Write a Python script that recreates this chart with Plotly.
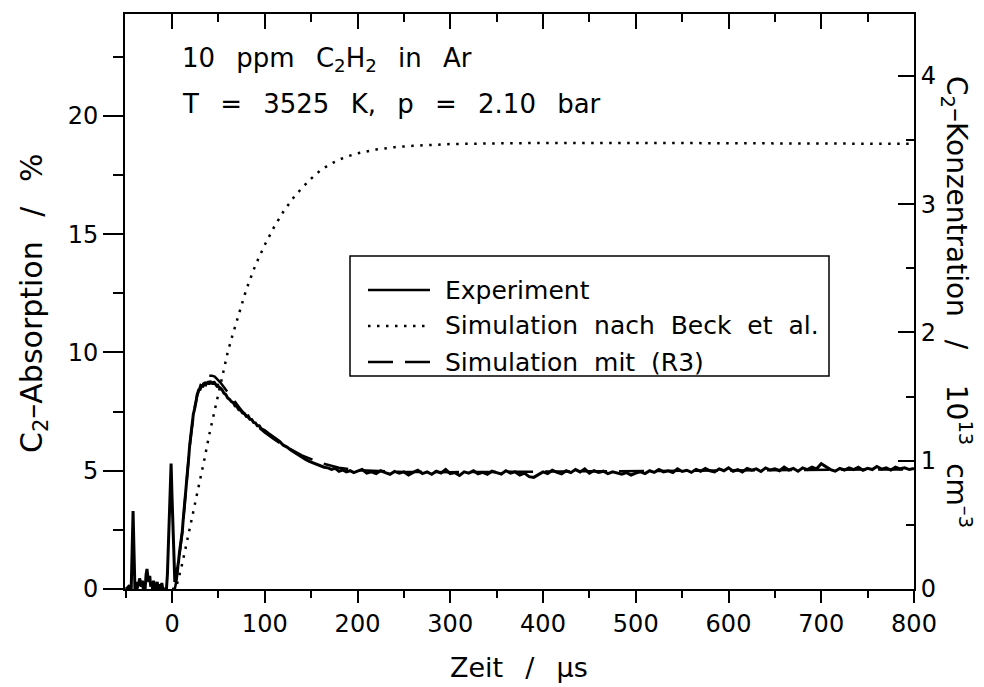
import plotly.graph_objects as go

# ---------------- data ----------------
# Experiment: C2 absorption in %, time in microseconds
exp_time_pre = [-50, -48, -46, -45, -44, -43, -42, -41, -40, -39,
                -38, -36, -35, -34, -33, -32, -31, -30, -29, -28,
                -27, -26, -25, -24, -23, -22, -21, -20, -19, -18,
                -17, -16, -15, -14, -13, -12, -11, -10, -8, -6,
                -5, -4, -3, -2, -1, 0, 1, 2, 3, 4]
exp_abs_pre = [0, 0.05, 0.15, 0, 0, 1.2, 3.3, 1.6, 0, 0.3,
               0, 0.2, 0.45, 0.3, 0.1, 0.35, 0, 0.1, 0, 0.6,
               0.85, 0.5, 0.3, 0.55, 0.1, 0.3, 0, 0.35, 0.15, 0,
               0.1, 0.3, 0.05, 0, 0.2, 0, 0.25, 0, 0, 0,
               0.6, 1.8, 3.2, 4.6, 5.3, 3.9, 2.3, 1.0, 0.3, 0.4]

exp_time_rise = list(range(5, 51)) + list(range(52, 99, 2))
exp_abs_rise = [0.6, 0.95, 1.15, 1.55, 1.8, 2.15, 2.4, 2.9, 3.3, 3.85,
                4.3, 4.65, 5.2, 5.55, 6.05, 6.4, 6.8, 7.0, 7.4, 7.55,
                7.85, 7.95, 8.2, 8.3, 8.45, 8.4, 8.55, 8.62, 8.52, 8.68,
                8.7, 8.58, 8.74, 8.66, 8.78, 8.64, 8.8, 8.7, 8.76, 8.65,
                8.77, 8.7, 8.68, 8.6, 8.66, 8.55,
                8.5, 8.42, 8.28, 8.22, 8.08, 8.02, 7.92, 7.88, 7.74, 7.72,
                7.58, 7.56, 7.44, 7.42, 7.3, 7.32, 7.18, 7.16, 7.04, 7.02,
                6.9, 6.9, 6.78, 6.74]

exp_time_decay = list(range(100, 197, 4))
exp_abs_decay = [6.7, 6.58, 6.47, 6.33, 6.24, 6.08, 6.0, 5.88, 5.78, 5.66,
                 5.58, 5.48, 5.4, 5.33, 5.27, 5.2, 5.15, 5.12, 5.06, 5.1,
                 4.98, 5.03, 4.95, 5.0, 4.92]

exp_time_plateau = list(range(200, 801, 5))
exp_abs_plateau = [4.98, 5.05, 4.90, 4.95, 4.88, 5.00, 4.92, 4.85, 4.97, 4.90,
                   4.95, 4.82, 4.93, 5.02, 4.88, 4.95, 4.85, 4.98, 4.90, 5.05,
                   4.88, 4.92, 4.80, 4.95, 4.90, 5.00, 4.87, 4.93, 4.85, 4.98,
                   4.92, 4.86, 5.00, 4.90, 4.95, 4.82, 4.90, 4.75, 4.72, 4.85,
                   4.95, 4.88, 5.02, 4.93, 4.87, 5.00, 4.92, 5.05, 4.95, 5.08,
                   4.90, 5.00, 4.93, 4.98, 4.88, 4.95, 4.90, 4.85, 4.92, 4.82,
                   4.90, 4.95, 4.88, 5.00, 4.93, 5.05, 4.95, 5.00, 4.92, 5.08,
                   4.97, 5.02, 4.93, 5.06, 4.98, 5.10, 5.00, 4.95, 5.08, 5.00,
                   5.12, 4.98, 5.05, 4.95, 5.10, 5.02, 5.08, 4.97, 5.12, 5.03,
                   5.08, 5.00, 5.15, 5.03, 5.10, 4.98, 5.12, 5.05, 5.15, 5.08,
                   5.30, 5.18, 5.05, 4.98, 5.10, 5.03, 5.12, 5.05, 5.15, 5.02,
                   5.10, 5.05, 5.18, 5.07, 5.12, 5.03, 5.15, 5.08, 5.12, 5.05,
                   5.10]

exp_time = exp_time_pre + exp_time_rise + exp_time_decay + exp_time_plateau
exp_abs = exp_abs_pre + exp_abs_rise + exp_abs_decay + exp_abs_plateau

# Simulation nach Beck et al. (dotted)
beck_time = [0, 4, 6, 8, 10, 15, 20, 25, 30, 35, 40, 45, 50, 55, 60, 65, 70,
             80, 90, 100, 110, 120, 130, 140, 150, 160, 170, 180, 190, 200,
             220, 240, 260, 280, 300, 350, 400, 500, 600, 700, 800]
beck_abs = [0, 0, 0.3, 0.6, 0.9, 1.8, 2.7, 3.6, 4.6, 5.5, 6.5, 7.4, 8.35, 9.2, 10.0, 10.7, 11.35,
            12.65, 13.7, 14.55, 15.3, 15.95, 16.5, 16.95, 17.35, 17.7, 17.95, 18.15, 18.3, 18.42,
            18.58, 18.68, 18.74, 18.78, 18.81, 18.84, 18.86, 18.86, 18.85, 18.84, 18.82]

# Simulation mit (R3) (dashed)
r3_time = [0, 3, 5, 7, 9, 11, 13, 15, 17, 19,
           21, 23, 25, 27, 29, 31, 34, 37, 40, 43,
           46, 49, 52, 55, 58, 62, 66, 70, 75, 80,
           90, 100, 110, 120, 140, 160, 180, 200, 250, 300,
           400, 500, 600, 700, 800]
r3_abs = [0, 0, 0.4, 1.0, 1.7, 2.4, 3.3, 4.3, 5.2, 6.0,
          6.7, 7.3, 7.8, 8.15, 8.45, 8.65, 8.85, 8.97, 9.02, 9.02,
          8.98, 8.88, 8.74, 8.58, 8.42, 8.2, 8.0, 7.8, 7.55, 7.33,
          6.95, 6.62, 6.33, 6.08, 5.65, 5.33, 5.13, 5.02, 4.95, 4.94,
          4.96, 4.98, 5.01, 5.04, 5.06]

x_ticks = [0, 100, 200, 300, 400, 500, 600, 700, 800]
y_left_ticks = [0, 5, 10, 15, 20]
y_right_ticks = [0, 1, 2, 3, 4]

legend_labels = ["Experiment", "Simulation nach Beck et al.", "Simulation mit (R3)"]

# ---------------- styling ----------------
FONT = "DejaVu Sans"
BLACK = "black"
DOT = "2.5px,6.5px"
DASH = "25px,12px"

W, H = 984, 687
L, R, T, B = 125, 70, 14, 98
PW, PH = W - L - R, H - T - B


def px(xp):
    return (xp - L) / PW


def py(yp):
    return (H - B - yp) / PH


fig = go.Figure()
fig.add_trace(go.Scatter(x=beck_time, y=beck_abs, mode="lines",
                         line=dict(color=BLACK, width=2.5, dash=DOT),
                         name=legend_labels[1], showlegend=False))
fig.add_trace(go.Scatter(x=exp_time, y=exp_abs, mode="lines",
                         line=dict(color=BLACK, width=3),
                         name=legend_labels[0], showlegend=False))
fig.add_trace(go.Scatter(x=r3_time, y=r3_abs, mode="lines",
                         line=dict(color=BLACK, width=2.5, dash=DASH),
                         name=legend_labels[2], showlegend=False))
# anchor trace for the mirrored top / right axes
fig.add_trace(go.Scatter(x=[None], y=[None], xaxis="x2", yaxis="y2",
                         showlegend=False, hoverinfo="skip"))

x_range = [-50.7, 800]
y_range = [0, 24.31]
y2_range = [0, 4.483]

tickfont = dict(family=FONT, size=24, color=BLACK)

fig.update_layout(
    width=W, height=H,
    margin=dict(l=L, r=R, t=T, b=B),
    paper_bgcolor="white", plot_bgcolor="white",
    showlegend=False,
    font=dict(family=FONT, color=BLACK),
    xaxis=dict(range=x_range, tickvals=x_ticks, ticks="outside", ticklen=12,
               tickwidth=1.5, tickcolor=BLACK,
               minor=dict(dtick=50, tick0=0, ticks="outside", ticklen=7, tickwidth=1.5, tickcolor=BLACK),
               showline=True, linewidth=2, linecolor=BLACK, showgrid=False, zeroline=False,
               tickfont=tickfont, anchor="y"),
    xaxis2=dict(range=x_range, tickvals=x_ticks, overlaying="x", side="top", anchor="y2",
                ticks="inside", ticklen=15, tickwidth=1.5, tickcolor=BLACK,
                minor=dict(dtick=50, tick0=0, ticks="inside", ticklen=8, tickwidth=1.5, tickcolor=BLACK),
                showticklabels=False, showline=True, linewidth=2, linecolor=BLACK,
                showgrid=False, zeroline=False),
    yaxis=dict(range=y_range, tickvals=y_left_ticks, ticks="outside", ticklen=20,
               tickwidth=1.5, tickcolor=BLACK,
               minor=dict(dtick=2.5, tick0=0, ticks="outside", ticklen=10, tickwidth=1.5, tickcolor=BLACK),
               showline=True, linewidth=2, linecolor=BLACK, showgrid=False, zeroline=False,
               tickfont=tickfont, anchor="x"),
    yaxis2=dict(range=y2_range, tickvals=y_right_ticks, overlaying="y", side="right", anchor="x2",
                ticks="inside", ticklen=16, tickwidth=1.5, tickcolor=BLACK,
                minor=dict(dtick=0.5, tick0=0, ticks="inside", ticklen=8, tickwidth=1.5, tickcolor=BLACK),
                showline=True, linewidth=2, linecolor=BLACK, showgrid=False, zeroline=False,
                tickfont=tickfont),
)

G3 = "\u00a0\u2002"   # wide word gap as in the plotter lettering
G2 = "\u00a0\u00a0"
G4 = "\u00a0\u00a0\u00a0\u00a0"

annotations = [
    dict(text=f"10{G3}ppm{G3}C<sub>2</sub>H<sub>2</sub>{G3}in{G3}Ar", x=px(180), y=py(60),
         xanchor="left", yanchor="middle", font=dict(size=26)),
    dict(text=f"T{G3}={G3}3525{G3}K,{G3}p{G3}={G3}2.10{G3}bar", x=px(180), y=py(104),
         xanchor="left", yanchor="middle", font=dict(size=26)),
    dict(text=f"Zeit{G3}/{G3}\u03bcs", x=px(519), y=py(667),
         xanchor="center", yanchor="middle", font=dict(size=27)),
    dict(text=f"C<sub>2</sub>\u2013Absorption{G3}/{G3}%", x=px(33), y=py(304),
         xanchor="center", yanchor="middle", textangle=-90, font=dict(size=30)),
    dict(text=f"C<sub>2</sub>\u2013Konzentration{G3}/{G4}10<sup>13</sup>{G2}cm<sup>\u20133</sup>",
         x=px(957), y=py(302), xanchor="center", yanchor="middle", textangle=90,
         font=dict(size=28)),
]

# hand-drawn legend box (as in the original figure)
shapes = [dict(type="rect", xref="paper", yref="paper",
               x0=px(350), x1=px(829), y0=py(376), y1=py(256),
               line=dict(color=BLACK, width=1.5), fillcolor="white", layer="above")]
row_y = [290, 326, 362]
dashes = ["solid", DOT, DASH]
for lab, yy, dsh in zip(legend_labels, row_y, dashes):
    shapes.append(dict(type="line", xref="paper", yref="paper",
                       x0=px(368), x1=px(430), y0=py(yy), y1=py(yy),
                       line=dict(color=BLACK, width=2.5, dash=dsh), layer="above"))
    annotations.append(dict(text=lab.replace(" ", G2), x=px(443), y=py(yy),
                            xanchor="left", yanchor="middle", font=dict(size=25)))

for a in annotations:
    a.setdefault("xref", "paper")
    a.setdefault("yref", "paper")
    a["showarrow"] = False
    a["font"] = dict(family=FONT, color=BLACK, **a.get("font", {}))

fig.update_layout(annotations=annotations, shapes=shapes)

fig.write_html("out.html")
